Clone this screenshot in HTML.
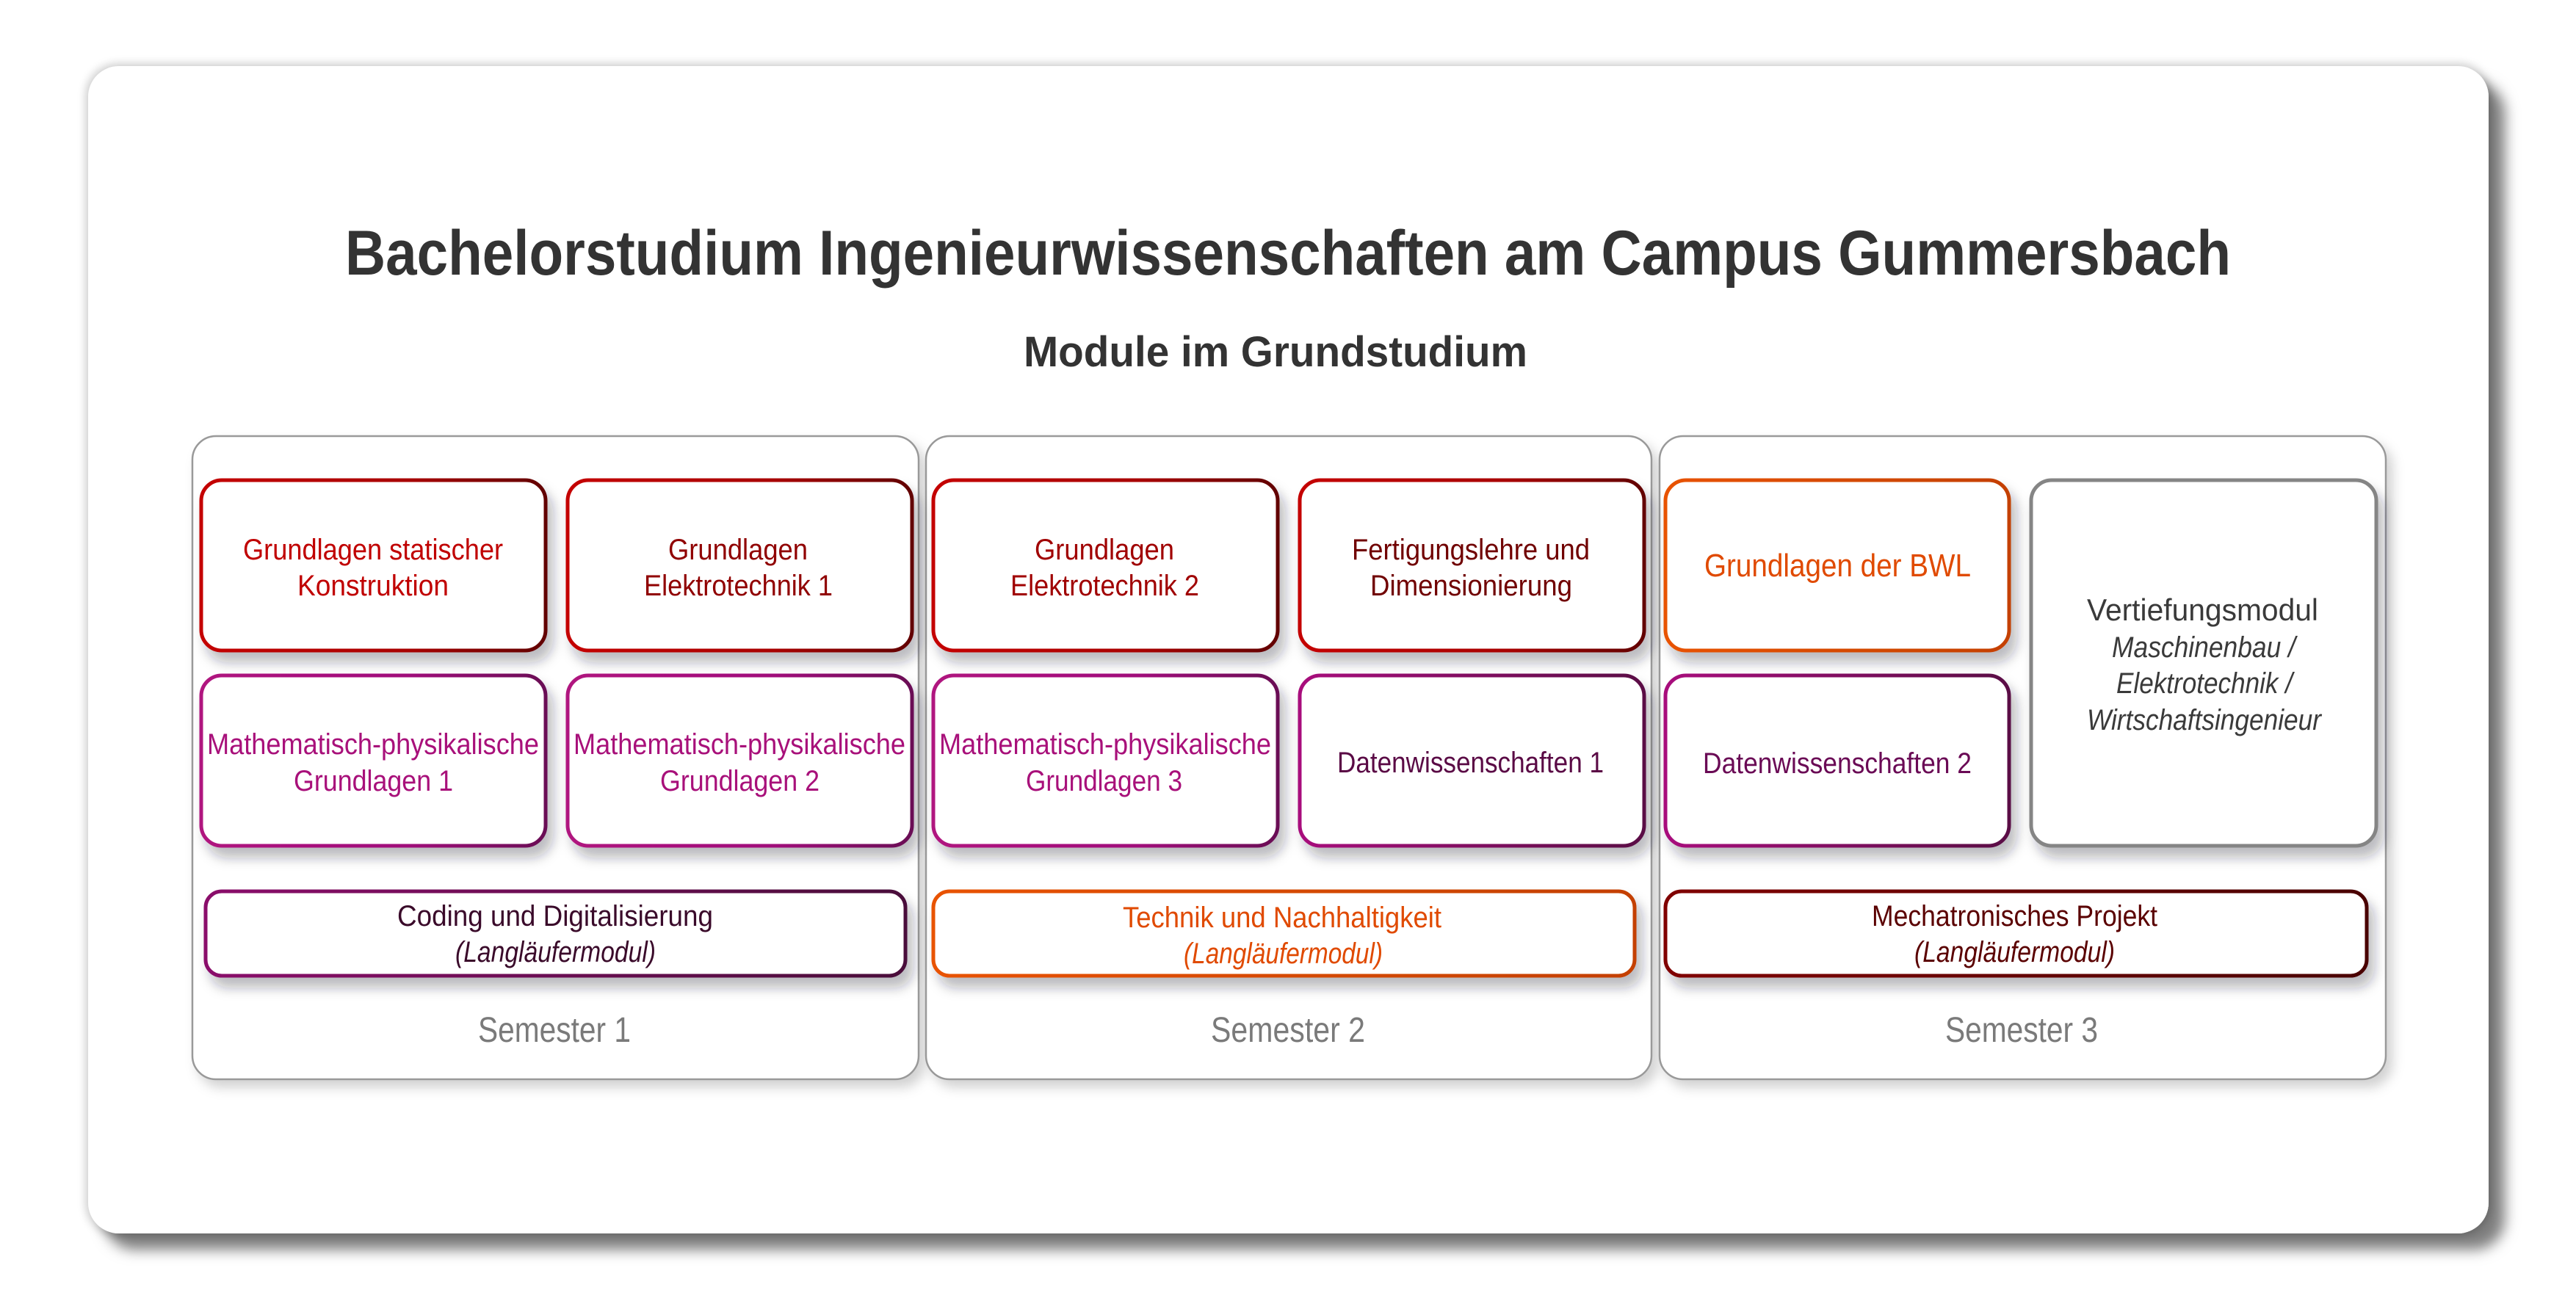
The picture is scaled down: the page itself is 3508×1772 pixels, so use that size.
<!DOCTYPE html>
<html><head><meta charset="utf-8"><style>
html,body{margin:0;padding:0;background:#fff;}
svg{display:block;}
text{font-family:"Liberation Sans",sans-serif;}
</style></head><body>
<svg width="3508" height="1772" viewBox="0 0 3508 1772" xmlns="http://www.w3.org/2000/svg">
<defs>
<filter id="cs" x="-5%" y="-5%" width="115%" height="120%"><feDropShadow dx="0" dy="0" stdDeviation="6" flood-color="#000" flood-opacity="0.12" result="a"/><feDropShadow dx="22" dy="22" stdDeviation="9" flood-color="#000" flood-opacity="0.5"/></filter>
<filter id="ss" x="-5%" y="-5%" width="115%" height="120%"><feDropShadow dx="8" dy="10" stdDeviation="8" flood-color="#000" flood-opacity="0.18"/></filter>
<filter id="bs" x="-10%" y="-10%" width="125%" height="140%"><feDropShadow dx="8" dy="14" stdDeviation="8" flood-color="#223" flood-opacity="0.3"/></filter>
<filter id="soft" x="-5%" y="-5%" width="110%" height="110%"><feGaussianBlur stdDeviation="6"/></filter>
<linearGradient id="gr" x1="0" x2="1"><stop offset="0" stop-color="#c40000"/><stop offset="0.6" stop-color="#a80000"/><stop offset="1" stop-color="#620000"/></linearGradient>
<linearGradient id="gm" x1="0" x2="1"><stop offset="0" stop-color="#b0127f"/><stop offset="0.6" stop-color="#a0107a"/><stop offset="1" stop-color="#6a0a55"/></linearGradient>
<linearGradient id="gp" x1="0" x2="1"><stop offset="0" stop-color="#a8107c"/><stop offset="1" stop-color="#5a0a45"/></linearGradient>
<linearGradient id="gc" x1="0" x2="1"><stop offset="0" stop-color="#8a0a6a"/><stop offset="1" stop-color="#4a0a3a"/></linearGradient>
<linearGradient id="go" x1="0" x2="1"><stop offset="0" stop-color="#e85200"/><stop offset="1" stop-color="#c44000"/></linearGradient>
<linearGradient id="gd" x1="0" x2="1"><stop offset="0" stop-color="#800000"/><stop offset="1" stop-color="#4a0000"/></linearGradient>
</defs>
<rect x="0" y="0" width="3508" height="1772" fill="#fff"/>
<rect x="116" y="86" width="3277" height="1598" rx="44" fill="#000" opacity="0.12" filter="url(#soft)"/>
<rect x="120" y="90" width="3269" height="1590" rx="42" fill="#fff" filter="url(#cs)"/>

<text x="470" y="374" font-size="86" font-weight="bold" fill="#333" textLength="2568" lengthAdjust="spacingAndGlyphs">Bachelorstudium Ingenieurwissenschaften am Campus Gummersbach</text>
<text x="1394" y="499" font-size="58" font-weight="bold" fill="#333" textLength="686" lengthAdjust="spacingAndGlyphs">Module im Grundstudium</text>

<g fill="#fff" stroke="#999" stroke-width="2.5" filter="url(#ss)">
<rect x="262" y="594" width="989" height="876" rx="32"/>
<rect x="1261" y="594" width="988" height="876" rx="32"/>
<rect x="2260" y="594" width="989" height="876" rx="32"/>
</g>

<g fill="#fff" stroke-width="5" filter="url(#bs)">
<rect x="274" y="654" width="469" height="232" rx="28" stroke="url(#gr)"/>
<rect x="773" y="654" width="469" height="232" rx="28" stroke="url(#gr)"/>
<rect x="1271" y="654" width="469" height="232" rx="28" stroke="url(#gr)"/>
<rect x="1770" y="654" width="469" height="232" rx="28" stroke="url(#gr)"/>
<rect x="2268" y="654" width="468" height="232" rx="28" stroke="url(#go)"/>
<rect x="2766" y="654" width="470" height="498" rx="28" stroke="#858585"/>
<rect x="274" y="920" width="469" height="232" rx="28" stroke="url(#gm)"/>
<rect x="773" y="920" width="469" height="232" rx="28" stroke="url(#gm)"/>
<rect x="1271" y="920" width="469" height="232" rx="28" stroke="url(#gm)"/>
<rect x="1770" y="920" width="469" height="232" rx="28" stroke="url(#gp)"/>
<rect x="2268" y="920" width="468" height="232" rx="28" stroke="url(#gp)"/>
<rect x="280" y="1214" width="953" height="115" rx="22" stroke="url(#gc)"/>
<rect x="1271" y="1214" width="955" height="115" rx="22" stroke="url(#go)"/>
<rect x="2268" y="1214" width="955" height="115" rx="22" stroke="url(#gd)"/>
</g>

<g font-size="40">
<text x="331" y="762" fill="#c00000" textLength="354" lengthAdjust="spacingAndGlyphs">Grundlagen statischer</text>
<text x="405" y="811" fill="#c00000" textLength="206" lengthAdjust="spacingAndGlyphs">Konstruktion</text>
<text x="910" y="762" fill="#900000" textLength="190" lengthAdjust="spacingAndGlyphs">Grundlagen</text>
<text x="877" y="811" fill="#900000" textLength="257" lengthAdjust="spacingAndGlyphs">Elektrotechnik 1</text>
<text x="1409" y="762" fill="#a00000" textLength="190" lengthAdjust="spacingAndGlyphs">Grundlagen</text>
<text x="1376" y="811" fill="#a00000" textLength="257" lengthAdjust="spacingAndGlyphs">Elektrotechnik 2</text>
<text x="1841" y="762" fill="#700000" textLength="324" lengthAdjust="spacingAndGlyphs">Fertigungslehre und</text>
<text x="1866" y="811" fill="#700000" textLength="275" lengthAdjust="spacingAndGlyphs">Dimensionierung</text>
<text x="2321" y="785" font-size="44" fill="#e04a00" textLength="363" lengthAdjust="spacingAndGlyphs">Grundlagen der BWL</text>

<text x="282" y="1027" fill="#a8107a" textLength="452" lengthAdjust="spacingAndGlyphs">Mathematisch-physikalische</text>
<text x="400" y="1077" fill="#a8107a" textLength="217" lengthAdjust="spacingAndGlyphs">Grundlagen 1</text>
<text x="781" y="1027" fill="#a8107a" textLength="452" lengthAdjust="spacingAndGlyphs">Mathematisch-physikalische</text>
<text x="899" y="1077" fill="#a8107a" textLength="217" lengthAdjust="spacingAndGlyphs">Grundlagen 2</text>
<text x="1279" y="1027" fill="#a8107a" textLength="452" lengthAdjust="spacingAndGlyphs">Mathematisch-physikalische</text>
<text x="1397" y="1077" fill="#a8107a" textLength="213" lengthAdjust="spacingAndGlyphs">Grundlagen 3</text>
<text x="1821" y="1052" fill="#5a0a45" textLength="363" lengthAdjust="spacingAndGlyphs">Datenwissenschaften 1</text>
<text x="2319" y="1053" fill="#6a0a55" textLength="366" lengthAdjust="spacingAndGlyphs">Datenwissenschaften 2</text>

<text x="2842" y="845" fill="#3a3a3a" font-size="42" textLength="315" lengthAdjust="spacingAndGlyphs">Vertiefungsmodul</text>
<text x="2876" y="895" fill="#3a3a3a" font-style="italic" textLength="250" lengthAdjust="spacingAndGlyphs">Maschinenbau /</text>
<text x="2882" y="944" fill="#3a3a3a" font-style="italic" textLength="240" lengthAdjust="spacingAndGlyphs">Elektrotechnik /</text>
<text x="2842" y="994" fill="#3a3a3a" font-style="italic" textLength="319" lengthAdjust="spacingAndGlyphs">Wirtschaftsingenieur</text>

<text x="541" y="1261" fill="#3a0a2a" textLength="430" lengthAdjust="spacingAndGlyphs">Coding und Digitalisierung</text>
<text x="620" y="1310" fill="#3a0a2a" font-style="italic" textLength="273" lengthAdjust="spacingAndGlyphs">(Langläufermodul)</text>
<text x="1529" y="1263" fill="#e04a00" textLength="434" lengthAdjust="spacingAndGlyphs">Technik und Nachhaltigkeit</text>
<text x="1612" y="1312" fill="#e04a00" font-style="italic" textLength="271" lengthAdjust="spacingAndGlyphs">(Langläufermodul)</text>
<text x="2549" y="1261" fill="#5a0000" textLength="389" lengthAdjust="spacingAndGlyphs">Mechatronisches Projekt</text>
<text x="2607" y="1310" fill="#5a0000" font-style="italic" textLength="273" lengthAdjust="spacingAndGlyphs">(Langläufermodul)</text>
</g>

<g font-size="48" fill="#7a7a7a">
<text x="651" y="1419" textLength="208" lengthAdjust="spacingAndGlyphs">Semester 1</text>
<text x="1649" y="1419" textLength="210" lengthAdjust="spacingAndGlyphs">Semester 2</text>
<text x="2649" y="1419" textLength="208" lengthAdjust="spacingAndGlyphs">Semester 3</text>
</g>
</svg>
</body></html>
